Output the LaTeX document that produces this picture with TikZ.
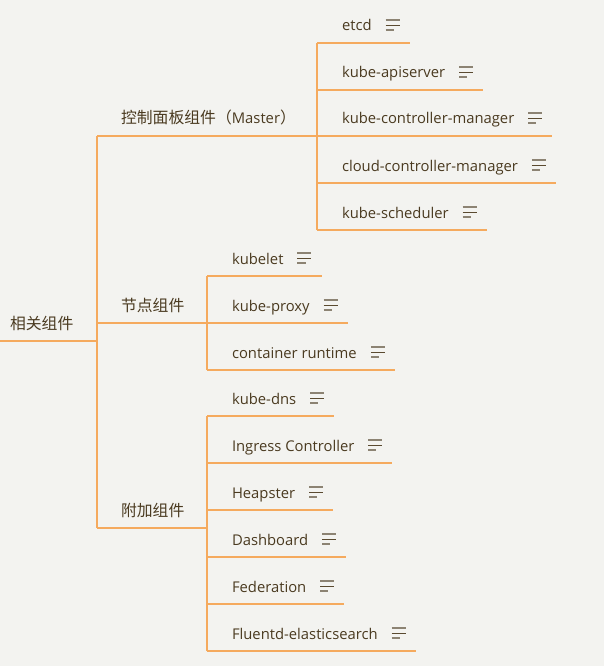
\documentclass[tikz,border=0pt]{standalone}
\usepackage{fontspec}
\setmainfont{Open Sans}
\newfontfamily\cjk[Scale=1.07]{Noto Sans CJK SC}
\usepackage{tikz}

\definecolor{bgcol}{HTML}{F3F3F0}
\definecolor{linecol}{HTML}{F5AA5E}
\definecolor{textcol}{HTML}{4A3A20}
\definecolor{notegray}{HTML}{8C8373}
\definecolor{notedark}{HTML}{5A4A30}

\newcommand\noteicon{\makebox[14pt][l]{%
  \rlap{\raisebox{10.2pt}{\color{notegray}\rule{14pt}{1.6pt}}}%
  \rlap{\raisebox{4.7pt}{\color{notedark}\rule{14pt}{1.6pt}}}%
  \raisebox{0.2pt}{\color{notegray}\rule{8pt}{1.6pt}}}}
\newcommand\leaf[1]{\hspace*{25pt}#1\hspace{14pt}\noteicon\hspace*{10pt}}
\newcommand\topictext[2]{\hspace*{#1}#2}

\begin{document}
\begin{tikzpicture}[x=1pt,y=-1pt,
  branch/.style={draw=linecol,line width=1.2pt},
  topic/.style={anchor=south west,inner sep=0pt,outer sep=0pt,text depth=12pt,
    text=textcol,font=\fontsize{14.8}{17}\selectfont}]

 \fill[bgcol] (0,0) rectangle (604,666);
 \useasboundingbox (0,0) rectangle (604,666);

 % root and main topics
 \node[topic] (root)   at (0,341)  {\topictext{10pt}{\cjk 相关组件}};
 \node[topic] (master) at (97,136) {\topictext{24pt}{{\cjk 控制面板组件（}Master{\cjk ）}}};
 \node[topic] (nodes)  at (97,323) {\topictext{24pt}{\cjk 节点组件}};
 \node[topic] (addons) at (97,528) {\topictext{24pt}{\cjk 附加组件}};

 % master components
 \node[topic] (etcd)  at (317,43)  {\leaf{etcd}};
 \node[topic] (api)   at (317,90)  {\leaf{kube-apiserver}};
 \node[topic] (kcm)   at (317,136) {\leaf{kube-controller-manager}};
 \node[topic] (ccm)   at (317,183) {\leaf{cloud-controller-manager}};
 \node[topic] (sched) at (317,230) {\leaf{kube-scheduler}};

 % node components
 \node[topic] (kubelet) at (207,276) {\leaf{kubelet}};
 \node[topic] (proxy)   at (207,323) {\leaf{kube-proxy}};
 \node[topic] (runtime) at (207,370) {\leaf{container runtime}};

 % addons
 \node[topic] (dns)     at (207,416) {\leaf{kube-dns}};
 \node[topic] (ingress) at (207,463) {\leaf{Ingress Controller}};
 \node[topic] (heap)    at (207,510) {\leaf{Heapster}};
 \node[topic] (dash)    at (207,557) {\leaf{Dashboard}};
 \node[topic] (fed)     at (207,604) {\leaf{Federation}};
 \node[topic] (fluent)  at (207,651) {\leaf{Fluentd-elasticsearch}};

 % trunk
 \draw[branch] (root.south west) -- (root.south west -| master.south west);
 \draw[branch] (master.south west) -- (addons.south west);
 \draw[branch] (master.south west) -- (master.south west -| etcd.south west);
 \draw[branch] (nodes.south west) -- (nodes.south west -| kubelet.south west);
 \draw[branch] (addons.south west) -- (addons.south west -| dns.south west);

 % branches
 \draw[branch] (etcd.south west) -- (sched.south west);
 \draw[branch] (kubelet.south west) -- (runtime.south west);
 \draw[branch] (dns.south west) -- (fluent.south west);
 \draw[branch] (etcd.south west) -- (etcd.south east)
               (api.south west) -- (api.south east)
               (kcm.south west) -- (kcm.south east)
               (ccm.south west) -- (ccm.south east)
               (sched.south west) -- (sched.south east);
 \draw[branch] (kubelet.south west) -- (kubelet.south east)
               (proxy.south west) -- (proxy.south east)
               (runtime.south west) -- (runtime.south east);
 \draw[branch] (dns.south west) -- (dns.south east)
               (ingress.south west) -- (ingress.south east)
               (heap.south west) -- (heap.south east)
               (dash.south west) -- (dash.south east)
               (fed.south west) -- (fed.south east)
               (fluent.south west) -- (fluent.south east);
\end{tikzpicture}
\end{document}
